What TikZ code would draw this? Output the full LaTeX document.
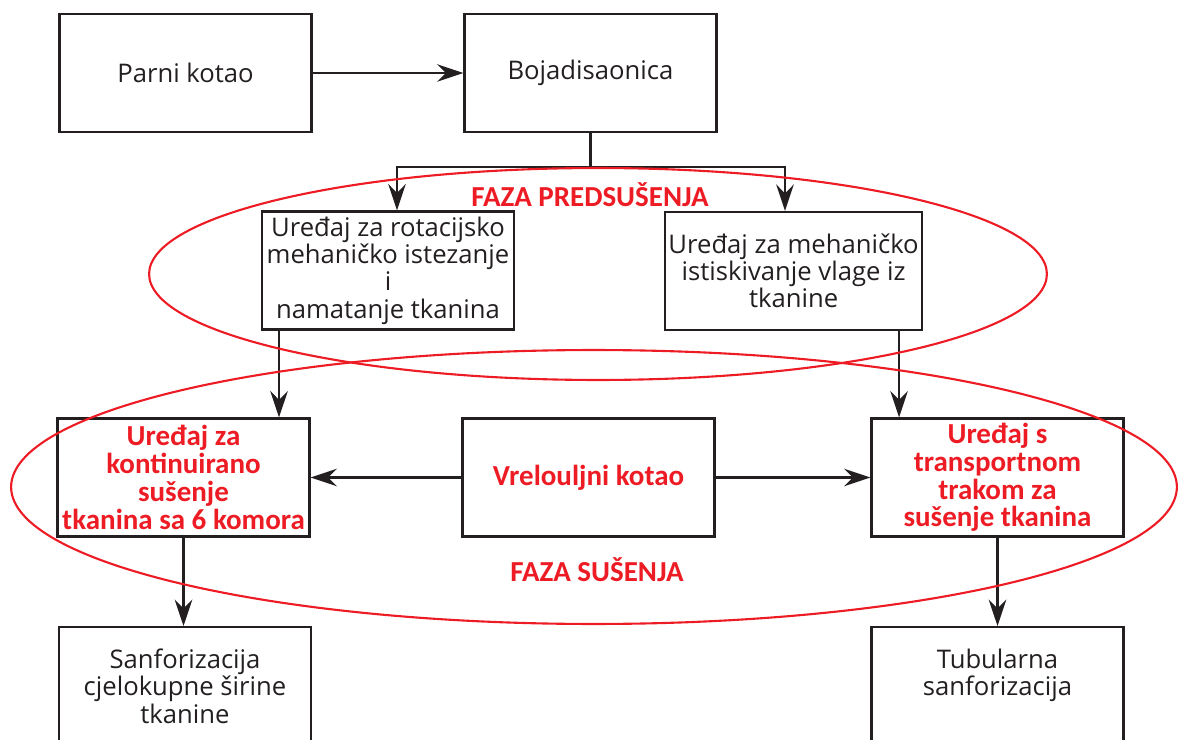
\documentclass[tikz,border=0pt]{standalone}
\usepackage{fontspec}
\setmainfont{Open Sans}
\newfontfamily\calibri{Carlito}
\usetikzlibrary{arrows.meta}
\definecolor{ink}{HTML}{231F20}
\definecolor{phasered}{HTML}{ED1C24}

\begin{document}
\begin{tikzpicture}[
    x=0.02cm, y=-0.02cm,
    unit/.style={rectangle, draw=ink, line width=1.3pt, minimum width=5.04cm, minimum height=2.36cm, align=center, inner sep=2pt, text=ink, font=\fontsize{14.6}{15.5}\selectfont},
    dryer/.style={unit, text=phasered, font=\calibri\bfseries\fontsize{16.5}{15.8}\selectfont},
    arrow/.style={-{Stealth[length=15pt, width=10pt, inset=5pt]}, line width=1.3pt, draw=ink},
    link/.style={line width=1.3pt, draw=ink},
    phase/.style={draw=phasered, line width=1.2pt},
    phaselabel/.style={text=phasered, font=\calibri\bfseries\fontsize{16.5}{18}\selectfont}
]

\useasboundingbox (0,0) rectangle (1178,740);
\clip (0,0) rectangle (1178,740);

% top row
\node[unit] (boiler)   at (185.5,73) {Parni kotao};
\node[unit] (dyehouse) at (590.5,73) {Bojadisaonica};

% pre-drying
\node[unit] (stretcher) at (388,270.5) {Uređaj za rotacijsko\\mehaničko istezanje\\i\\namatanje tkanina};
\node[unit] (squeezer)  at (793.6,271) {Uređaj za mehaničko\\istiskivanje vlage iz\\tkanine};

% drying
\node[dryer] (chamber)   at (183.5,477.5) {Uređaj za\\kontinuirano\\sušenje\\tkanina sa 6 komora};
\node[dryer] (oilboiler) at (588.5,477.5) {Vrelouljni kotao};
\node[dryer] (belt)      at (997.5,477.5) {Uređaj s\\transportnom\\trakom za\\sušenje tkanina};

% finishing
\node[unit, anchor=north] (fullwidth) at (185,626) {Sanforizacija\\cjelokupne širine\\tkanine};
\node[unit, anchor=north] (tubular)   at (997.5,626) {Tubularna\\sanforizacija\\\mbox{}};

\coordinate (splitL) at (397,167);
\coordinate (splitR) at (785,167);

\draw[arrow] (boiler) -- (dyehouse);
\draw[link] (dyehouse.south) -- (dyehouse.south |- splitL);
\draw[arrow] (dyehouse.south |- splitL) -- (splitL) -- (splitL |- stretcher.north);
\draw[arrow] (dyehouse.south |- splitL) -- (splitR) -- (splitR |- squeezer.north);

\draw[arrow] ([xshift=-2.18cm]stretcher.south) -- ([xshift=-2.18cm]stretcher.south |- chamber.north);
\draw[arrow] ([xshift=2.11cm]squeezer.south) -- ([xshift=2.11cm]squeezer.south |- belt.north);

\draw[arrow] (oilboiler) -- (chamber);
\draw[arrow] (oilboiler) -- (belt);

\draw[arrow] (chamber.south) -- (chamber.south |- fullwidth.north);
\draw[arrow] (belt.south) -- (belt.south |- tubular.north);

% phases
\node[phaselabel] (prelabel) at (590,195) {FAZA PREDSUŠENJA};
\node[phaselabel] (drylabel) at (597,570) {FAZA SUŠENJA};
\draw[phase] (598,274) ellipse [x radius=8.98cm, y radius=2.12cm];
\draw[phase] (594,487) ellipse [x radius=11.66cm, y radius=2.74cm];

\end{tikzpicture}
\end{document}
